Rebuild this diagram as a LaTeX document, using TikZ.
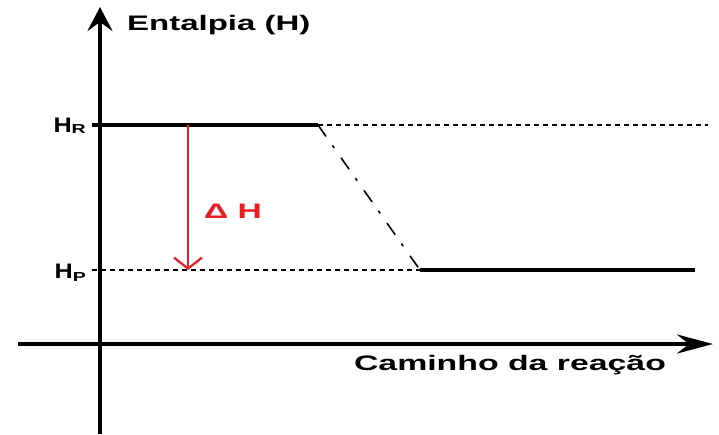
\documentclass[tikz,border=0pt]{standalone}
\usepackage{fontspec}
\usepackage{graphicx}
\setmainfont{Liberation Sans}
\usetikzlibrary{arrows.meta}
\definecolor{dhred}{RGB}{230,30,35}
\tikzset{
  yaxis/.style={line width=4pt,-{Stealth[length=24pt,width=25pt,inset=9pt]}},
  xaxis/.style={line width=4pt,-{Stealth[length=36pt,width=19pt,inset=12pt]}},
  level/.style={line width=4pt},
  guide/.style={line width=1.4pt,dash pattern=on 5pt off 4pt},
  path/.style={line width=1.6pt,dash pattern=on 14pt off 11pt on 3pt off 12pt},
  dharrow/.style={line width=2.2pt,dhred,-{Straight Barb[length=11pt,width=28pt,line width=2.2pt]}},
  lbl/.style={inner sep=0pt,font=\fontsize{21}{25}\selectfont\bfseries},
}
\newcommand{\wide}[2]{\scalebox{#1}[1]{#2}}
\newcommand{\sublbl}[2]{\wide{1.2}{H}\raisebox{#2}{\wide{1.5}{\fontsize{13}{15}\selectfont #1}}}
\begin{document}
\begin{tikzpicture}[x=1pt,y=-1pt]
\useasboundingbox (0,0) rectangle (719,434);
% axes
\coordinate (ybot) at (100,434);
\coordinate (ytop) at (100,7);
\coordinate (xl) at (18,344);
\coordinate (xr) at (713,344);
\draw[yaxis] (ybot) -- (ytop);
\draw[xaxis] (xl) -- (xr);
% levels
\coordinate (hrs) at (92,125);
\coordinate (hre) at (318,125);
\coordinate (hrd) at (708,125);
\coordinate (hps) at (92,270);
\coordinate (hpb) at (420,270);
\coordinate (hpe) at (695,270);
\draw[guide] (hre) -- (hrd);
\draw[guide] (hps) -- (hpb);
\draw[level] (hrs) -- (hre);
\draw[level] (hpb) -- (hpe);
\draw[path] (hre) -- (hpb);
% delta H arrow
\coordinate (dhs) at (188,125);
\coordinate (dhe) at (188,270);
\draw[dharrow] (dhs) -- (dhe);
% labels
\node[lbl,anchor=west] (ent) at (127,25) {\wide{1.57}{Entalpia (H)}};
\node[lbl,anchor=center] (cam) at (510,365) {\wide{1.61}{Caminho da reação}};
\node[lbl,anchor=base east] (hr) at (86,132) {\sublbl{R}{-0.1ex}};
\node[lbl,anchor=base east] (hp) at (86,278) {\sublbl{P}{-0.35ex}};
\node[lbl,anchor=west,text=dhred] (dh) at (204,211) {\wide{1.6}{Δ H}};
\end{tikzpicture}
\end{document}
